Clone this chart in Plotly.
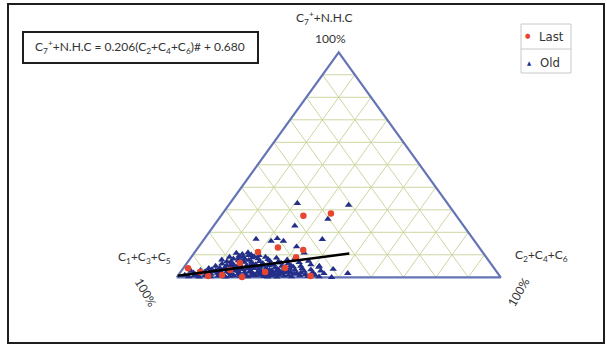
import plotly.graph_objects as go

W, H = 607, 347

# Composition in percent. top = C7+ + N.H.C, right = C2+C4+C6;
# left = C1+C3+C5 is the remainder to 100.
old_top = [
    1.0, 0.3, 2.0, 0.8, 3.1, 1.5, 0.2, 2.6, 2.8, 4.0,
    0.9, 2.2, 3.5, 5.0, 1.4, 0.3, 3.0, 6.0, 4.2, 1.9,
    7.0, 2.8, 0.6, 5.3, 3.7, 8.2, 1.2, 6.4, 2.5, 9.5,
    4.6, 0.2, 10.3, 7.4, 3.3, 1.7, 9.0, 5.6, 11.0, 2.9,
    8.1, 0.8, 6.7, 4.1, 10.0, 1.6, 7.6, 3.5, 5.2, 9.2,
    0.4, 2.3, 10.8, 9.0, 7.8,
    6.2, 4.4, 1.1, 8.3, 3.0, 5.7, 0.3, 7.1, 2.0, 4.8,
    9.0, 1.4, 6.3, 3.6, 0.7, 8.0, 5.1, 2.6, 7.3, 1.0,
    4.0, 6.0, 2.0, 8.6, 0.4, 3.3, 5.5, 1.6, 7.0, 4.3,
    2.5, 0.8, 6.4, 3.6, 1.2, 5.0, 7.8, 2.1, 0.2, 4.2,
    6.1, 1.5, 3.0, 8.4, 5.3, 0.6,
    2.4, 4.6, 1.0, 6.6, 3.2, 0.3, 5.0, 1.8, 3.9, 7.2,
    0.8, 2.7, 5.6, 1.3, 3.4, 0.4, 2.2, 4.5, 1.0, 2.9,
    0.3, 1.7,
    1.2, 0.5, 2.5, 1.6, 0.9, 3.1, 2.2, 0.5, 3.8, 2.6,
    1.1, 3.9, 2.4, 0.9, 4.5, 1.8, 3.0, 1.1, 2.9, 1.9,
    3.1, 1.0, 2.2, 3.8, 2.1, 1.4, 2.0, 4.4, 5.8, 4.9,
    5.0, 6.9, 4.0, 2.3, 5.2, 0.2, 2.8, 3.5, 6.9, 7.0,
    8.8, 9.8, 8.5, 9.8,
    32.9, 32.1, 25.9, 22.9, 17.0, 16.1, 17.3, 16.1, 16.9, 13.6,
    10.9, 1.8, 3.6, 5.0, 0.0,
]
old_right = [
    2.0, 3.5, 4.2, 5.0, 5.8, 6.3, 6.8, 7.5, 3.0, 7.9,
    8.3, 8.8, 9.1, 9.5, 9.9, 10.3, 10.6, 11.0, 11.2, 11.6,
    12.0, 12.1, 12.5, 12.8, 13.1, 13.4, 13.7, 13.9, 14.2, 14.5,
    14.6, 14.9, 15.1, 15.3, 15.6, 15.8, 16.0, 16.3, 16.5, 16.8,
    17.0, 17.2, 17.5, 17.7, 18.0, 18.2, 18.4, 18.7, 19.0, 19.3,
    19.5, 19.8, 13.0, 11.8, 10.0,
    20.1, 20.4, 20.6, 21.0, 21.2, 21.5, 21.8, 22.0, 22.3, 22.6,
    22.9, 23.1, 23.4, 23.7, 24.0, 24.2, 24.5, 24.8, 25.1, 25.3,
    25.6, 25.9, 26.2, 26.5, 26.7, 27.0, 27.3, 27.6, 27.9, 28.2,
    28.4, 28.7, 29.0, 29.3, 29.6, 29.9, 30.2, 30.5, 30.8, 31.1,
    31.4, 31.7, 32.0, 32.3, 32.6, 32.9,
    33.3, 33.7, 34.0, 34.5, 34.9, 35.3, 35.8, 36.2, 36.7, 37.1,
    37.6, 38.0, 38.6, 39.1, 39.7, 40.3, 40.9, 41.6, 42.2, 43.0,
    43.8, 44.6,
    5.2, 9.7, 10.8, 12.3, 13.5, 14.4, 15.2, 16.1, 16.9, 17.8,
    18.8, 19.9, 21.4, 22.7, 23.5, 24.6, 25.7, 26.9, 27.8, 28.9,
    30.0, 31.0, 31.9, 33.0, 34.2, 35.6, 37.3, 12.7, 14.0, 15.5,
    17.4, 19.6, 21.9, 23.8, 26.0, 28.0, 29.5, 31.5, 13.3, 16.6,
    18.9, 20.5, 14.8, 17.3,
    20.8, 37.0, 33.7, 25.0, 16.0, 21.1, 22.4, 24.9, 36.5, 30.2,
    33.9, 51.9, 46.5, 41.5, 47.8,
]

last_top = [4.0, 0.6, 1.0, 6.4, 11.2, 0.1, 13.3, 8.9, 12.1, 0.6,
            27.4, 28.4, 3.2, 2.4, 2.4, 4.1]
last_right = [1.5, 9.4, 13.5, 16.3, 19.5, 20.1, 24.6, 32.4, 33.0, 41.0,
              25.4, 33.4, 14.9, 26.1, 6.0, 31.4]

# Fitted trend: C7+ + N.H.C = 0.206 (C2+C4+C6)# + 0.680
fit_slope = 0.206
fit_intercept = 0.680
fit_right = [0.0, 48.0]

grid_levels = [10, 20, 30, 40, 50, 60, 70, 80, 90]

RED = "#e8462f"
NAVY = "#232e88"
EDGE = "#6474b6"
GRID = "#cbd7a2"


def to_xy(top, right):
    """Project ternary percentages onto the plane (left corner at 0, right at 100)."""
    xs = [r + t / 2.0 for t, r in zip(top, right)]
    return xs, list(top)


def px(x):
    return x / W


def py(y):
    return 1 - y / H


fig = go.Figure()

# grid lines at every 10 %
gx, gy = [], []
for k in grid_levels:
    # constant top component
    for seg in (([k, k], [0, 100 - k]),
                # constant right component
                ([0, 100 - k], [k, k]),
                # constant left component
                ([0, 100 - k], [100 - k, 0])):
        xs, ys = to_xy(*seg)
        gx += xs + [None]
        gy += ys + [None]
fig.add_trace(go.Scatter(x=gx, y=gy, mode="lines", line=dict(color=GRID, width=1),
                         hoverinfo="skip", showlegend=False))

# triangle outline
bx, by = to_xy([0, 100, 0, 0], [0, 0, 100, 0])
fig.add_trace(go.Scatter(x=bx, y=by, mode="lines", line=dict(color=EDGE, width=2.2),
                         hoverinfo="skip", showlegend=False))

ox, oy = to_xy(old_top, old_right)
fig.add_trace(go.Scatter(x=ox, y=oy, mode="markers", name="Old",
                         marker=dict(symbol="triangle-up", size=6.5, color=NAVY),
                         showlegend=False))

lx, ly = to_xy(last_top, last_right)
fig.add_trace(go.Scatter(x=lx, y=ly, mode="markers", name="Last",
                         marker=dict(symbol="circle", size=6.5, color=RED),
                         showlegend=False))

fit_top = [fit_slope * r + fit_intercept for r in fit_right]
fx, fy = to_xy(fit_top, fit_right)
fig.add_trace(go.Scatter(x=fx, y=fy, mode="lines", line=dict(color="black", width=2.5),
                         hoverinfo="skip", showlegend=False))

shapes = [
    # outer frame
    dict(type="rect", xref="paper", yref="paper", x0=px(8), x1=px(604), y0=py(343), y1=py(4),
         line=dict(color="#1e1e1e", width=2)),
    # equation box
    dict(type="rect", xref="paper", yref="paper", x0=px(23), x1=px(258), y0=py(63), y1=py(32),
         line=dict(color="#1e1e1e", width=2)),
    # legend box and divider
    dict(type="rect", xref="paper", yref="paper", x0=px(521), x1=px(571), y0=py(73), y1=py(24),
         line=dict(color="#c8c8c8", width=1)),
    dict(type="line", xref="paper", yref="paper", x0=px(521), x1=px(571), y0=py(49), y1=py(49),
         line=dict(color="#c8c8c8", width=1)),
]

LABEL_FONT = dict(family="Lato, Open Sans, sans-serif", size=12, color="#333333")
NARROW = dict(family="Liberation Sans Narrow, DejaVu Sans Condensed, sans-serif", size=13,
              color="#333333")


def note(x, y, text, font, angle=0, xanchor="center"):
    return dict(x=px(x), y=py(y), xref="paper", yref="paper", text=text, showarrow=False,
                font=font, textangle=angle, xanchor=xanchor, yanchor="middle")


annotations = [
    note(140, 47.5, "C<sub>7</sub><sup>+</sup>+N.H.C = 0.206(C<sub>2</sub>+C<sub>4</sub>+C<sub>6</sub>)# + 0.680",
         LABEL_FONT),
    note(324, 18, "C<sub>7</sub><sup>+</sup>+N.H.C", LABEL_FONT),
    note(330, 38, "100%", LABEL_FONT),
    note(144, 257, "C<sub>1</sub>+C<sub>3</sub>+C<sub>5</sub>", LABEL_FONT),
    note(146, 292, "100%", LABEL_FONT, angle=60),
    note(541, 256, "C<sub>2</sub>+C<sub>4</sub>+C<sub>6</sub>", LABEL_FONT),
    note(518, 292, "100%", LABEL_FONT, angle=-60),
    # legend entries
    note(528, 35.5, "●", dict(NARROW, size=7, color=RED)),
    note(537, 36, "Last", NARROW, xanchor="left"),
    note(529, 62, "▲", dict(NARROW, size=6, color=NAVY)),
    note(538, 62, "Old", NARROW, xanchor="left"),
]

fig.update_layout(
    width=W, height=H,
    margin=dict(l=0, r=0, t=0, b=0),
    paper_bgcolor="white", plot_bgcolor="white",
    xaxis=dict(range=[-176.7 / 3.24, (W - 176.7) / 3.24], visible=False, fixedrange=True),
    yaxis=dict(range=[-(H - 277.3) / 2.25, 277.3 / 2.25], visible=False, fixedrange=True),
    shapes=shapes,
    annotations=annotations,
    showlegend=False,
)

fig.write_html("out.html")
